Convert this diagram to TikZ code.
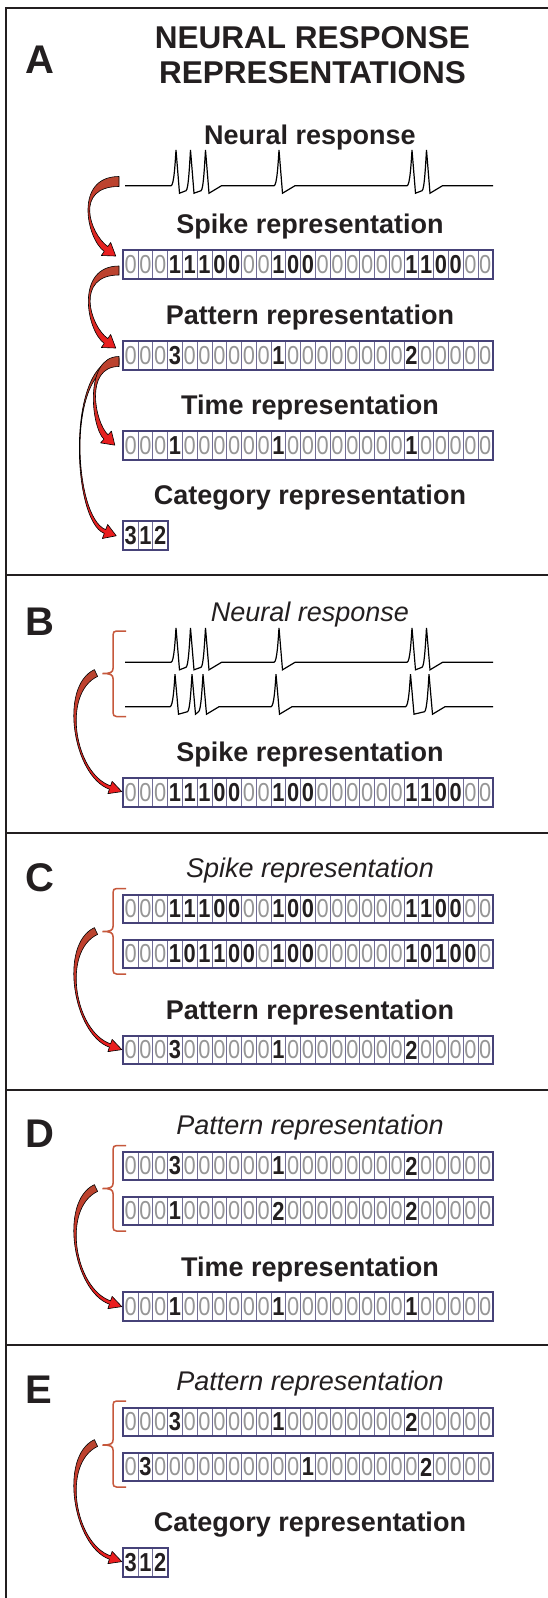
\documentclass[tikz,border=0pt]{standalone}
\usepackage{fontspec}
\setmainfont{Liberation Sans}
\newfontfamily\cellfont[FakeStretch=0.84]{Liberation Sans}
\usetikzlibrary{calc}

\definecolor{ink}{RGB}{35,31,32}
\definecolor{zerogray}{RGB}{150,150,150}
\definecolor{cellline}{RGB}{112,108,150}
\definecolor{cellframe}{RGB}{70,66,120}
\definecolor{bracketred}{RGB}{198,88,60}
\definecolor{arrowtop}{RGB}{184,70,48}
\definecolor{arrowbottom}{RGB}{236,28,30}

% cell contents: grey zero, bold black digit
\newcommand\zc{\color{zerogray}0}
\newcommand\bc[1]{\bfseries\color{ink}#1}

\def\rowSpikeA{\zc,\zc,\zc,\bc1,\bc1,\bc1,\bc0,\bc0,\zc,\zc,\bc1,\bc0,\bc0,\zc,\zc,\zc,\zc,\zc,\zc,\bc1,\bc1,\bc0,\bc0,\zc,\zc}
\def\rowSpikeB{\zc,\zc,\zc,\bc1,\bc0,\bc1,\bc1,\bc0,\bc0,\zc,\bc1,\bc0,\bc0,\zc,\zc,\zc,\zc,\zc,\zc,\bc1,\bc0,\bc1,\bc0,\bc0,\zc}
\def\rowPatternA{\zc,\zc,\zc,\bc3,\zc,\zc,\zc,\zc,\zc,\zc,\bc1,\zc,\zc,\zc,\zc,\zc,\zc,\zc,\zc,\bc2,\zc,\zc,\zc,\zc,\zc}
\def\rowPatternB{\zc,\zc,\zc,\bc1,\zc,\zc,\zc,\zc,\zc,\zc,\bc2,\zc,\zc,\zc,\zc,\zc,\zc,\zc,\zc,\bc2,\zc,\zc,\zc,\zc,\zc}
\def\rowPatternC{\zc,\bc3,\zc,\zc,\zc,\zc,\zc,\zc,\zc,\zc,\zc,\zc,\bc1,\zc,\zc,\zc,\zc,\zc,\zc,\zc,\bc2,\zc,\zc,\zc,\zc}
\def\rowTime{\zc,\zc,\zc,\bc1,\zc,\zc,\zc,\zc,\zc,\zc,\bc1,\zc,\zc,\zc,\zc,\zc,\zc,\zc,\zc,\bc1,\zc,\zc,\zc,\zc,\zc}
\def\rowCategory{\bc3,\bc1,\bc2}

% a row of cells: name, centre y, contents, last index
\newcommand\cellrow[4]{%
  \foreach \d [count=\i from 0] in #3 {
    \node[cell] (#1-\i) at ({123.3+(\i+0.5)*14.776},#2) {\d};
  }
  \draw[rowframe] (#1-0.north west) rectangle (#1-#4.south east);
}

% membrane trace: baseline, spike height, six spike peaks (burst of 3, single, pair)
\newcommand\spiketrace[8]{%
  \draw[trace] (125,#1)
    -- ({#3-5},#1) .. controls ({#3-2},#1) and ({#3-0.8},{#1-#2+12}) .. (#3,{#1-#2})
    -- ({#3+3.5},{#1+7.5}) -- ({#4-4.5},{#1+5})
       .. controls ({#4-2},{#1+4.5}) and ({#4-0.8},{#1-#2+12}) .. (#4,{#1-#2})
    -- ({#4+3.5},{#1+7.5}) -- ({#5-4.5},{#1+5})
       .. controls ({#5-2},{#1+4.5}) and ({#5-0.8},{#1-#2+12}) .. (#5,{#1-#2})
    -- ({#5+3.5},{#1+7.5}) -- ({#5+16},#1)
    -- ({#6-5},#1) .. controls ({#6-2},#1) and ({#6-0.8},{#1-#2+12}) .. (#6,{#1-#2})
    -- ({#6+3.5},{#1+7.5}) -- ({#6+16},#1)
    -- ({#7-5},#1) .. controls ({#7-2},#1) and ({#7-0.8},{#1-#2+12}) .. (#7,{#1-#2})
    -- ({#7+3.5},{#1+7.5}) -- ({#8-4.5},{#1+5})
       .. controls ({#8-2},{#1+4.5}) and ({#8-0.8},{#1-#2+12}) .. (#8,{#1-#2})
    -- ({#8+3.5},{#1+7.5}) -- ({#8+16},#1) -- (493,#1);
}

% curly grouping bracket: top, bottom, middle
\newcommand\groupbracket[3]{%
  \draw[bracketline] (126,#1) -- (116.5,#1)
    .. controls (114,#1) and (113,{#1+1.5}) .. (113,{#1+4})
    -- (113,{#3-5}) .. controls (113,{#3-1.5}) and (111,#3) .. (102.5,#3)
    .. controls (111,#3) and (113,{#3+1.5}) .. (113,{#3+5})
    -- (113,{#2-4}) .. controls (113,{#2-1.5}) and (114,#2) .. (116.5,#2) -- (126,#2);
}

\makeatletter
\newcommand\grabxy[3]{%
  \pgfpointanchor{#1}{center}%
  \edef\taTmpx{\the\pgf@x}\edef\taTmpy{\the\pgf@y}%
  \pgfmathsetmacro#2{\taTmpx}%
  \pgfmathsetmacro#3{\taTmpy}}
\makeatother

% tapered curved arrow: tail, control 1, control 2, neck,
% tail width, neck width, head length, head width
\newcommand\taperarrow[8]{%
  \grabxy{#1}\taTx\taTy
  \grabxy{#2}\taPx\taPy
  \grabxy{#3}\taQx\taQy
  \grabxy{#4}\taNx\taNy
  \pgfmathsetmacro\taL{veclen((\taPx)-(\taTx),(\taPy)-(\taTy))}%
  \pgfmathsetmacro\taAx{-1*((\taPy)-(\taTy))/(\taL)*#5/2}%
  \pgfmathsetmacro\taAy{((\taPx)-(\taTx))/(\taL)*#5/2}%
  \pgfmathsetmacro\taM{veclen((\taNx)-(\taQx),(\taNy)-(\taQy))}%
  \pgfmathsetmacro\taEx{((\taNx)-(\taQx))/(\taM)}%
  \pgfmathsetmacro\taEy{((\taNy)-(\taQy))/(\taM)}%
  \pgfmathsetmacro\taBx{-1*(\taEy)*#6/2}%
  \pgfmathsetmacro\taBy{(\taEx)*#6/2}%
  \pgfmathsetmacro\taHx{-1*(\taEy)*#8/2}%
  \pgfmathsetmacro\taHy{(\taEx)*#8/2}%
  \shadedraw[arrowbody]
    ({((\taTx)+(\taAx))*1pt},{((\taTy)+(\taAy))*1pt})
    .. controls ({((\taPx)+(\taAx))*1pt},{((\taPy)+(\taAy))*1pt})
           and ({((\taQx)+(\taBx))*1pt},{((\taQy)+(\taBy))*1pt})
    .. ({((\taNx)+(\taBx))*1pt},{((\taNy)+(\taBy))*1pt})
    -- ({((\taNx)+(\taHx))*1pt},{((\taNy)+(\taHy))*1pt})
    -- ({((\taNx)+(\taEx)*#7)*1pt},{((\taNy)+(\taEy)*#7)*1pt})
    -- ({((\taNx)-(\taHx))*1pt},{((\taNy)-(\taHy))*1pt})
    -- ({((\taNx)-(\taBx))*1pt},{((\taNy)-(\taBy))*1pt})
    .. controls ({((\taQx)-(\taBx))*1pt},{((\taQy)-(\taBy))*1pt})
           and ({((\taPx)-(\taAx))*1pt},{((\taPy)-(\taAy))*1pt})
    .. ({((\taTx)-(\taAx))*1pt},{((\taTy)-(\taAy))*1pt}) -- cycle;
}

\begin{document}
\begin{tikzpicture}[x=1pt,y=-1pt,
  frameline/.style={draw=ink, line width=2.8pt},
  panellabel/.style={font=\fontsize{40}{40}\selectfont\bfseries, text=ink, inner sep=0pt, anchor=base west},
  maintitle/.style={font=\fontsize{31.5}{32}\selectfont\bfseries, text=ink, inner sep=0pt, anchor=base},
  heading/.style={font=\fontsize{27}{28}\selectfont\bfseries, text=ink, inner sep=0pt, anchor=base},
  subheading/.style={font=\fontsize{27}{28}\selectfont\itshape, text=ink, inner sep=0pt, anchor=base},
  cell/.style={draw=cellline, line width=0.8pt, fill=white, minimum width=14.776pt,
    minimum height=27.5pt, inner sep=0pt, font=\cellfont\fontsize{26}{26}\selectfont},
  rowframe/.style={draw=cellframe, line width=1.8pt},
  trace/.style={draw=black, line width=1.2pt, line join=miter},
  bracketline/.style={draw=bracketred, line width=1.5pt},
  arrowbody/.style={top color=arrowtop, bottom color=arrowbottom, draw=black, line width=0.6pt, line join=round}]

\useasboundingbox (0,0) rectangle (548,1598);
\fill[white] (0,0) rectangle (548,1598);

% outer frame and panel dividers
\draw[frameline] (6,1598) -- (6,8) -- (548,8);
\foreach \yy in {575,833,1090,1345} \draw[frameline] (6,\yy) -- (548,\yy);

% ---------------- panel A ----------------
\node[panellabel] (labA) at (25,73) {A};
\node[maintitle] (titleA1) at (312.5,48.5) {NEURAL RESPONSE};
\node[maintitle] (titleA2) at (312.5,83.5) {REPRESENTATIONS};
\node[heading] (hA0) at (310,144) {Neural response};
\spiketrace{185.7}{35.7}{176}{190.5}{205.5}{279}{412}{426.5}
\node[heading] (hA1) at (310,233.5) {Spike representation};
\cellrow{rA1}{264.5}{\rowSpikeA}{24}
\node[heading] (hA2) at (310,324.5) {Pattern representation};
\cellrow{rA2}{355.5}{\rowPatternA}{24}
\node[heading] (hA3) at (310,414) {Time representation};
\cellrow{rA3}{445.5}{\rowTime}{24}
\node[heading] (hA4) at (310,504.5) {Category representation};
\cellrow{rA4}{535.5}{\rowCategory}{2}

\coordinate (a1t) at (119,181.5); \coordinate (a1p) at (74,181.5);
\coordinate (a1q) at (88,236);    \coordinate (a1n) at (106,249);
\taperarrow{a1t}{a1p}{a1q}{a1n}{10}{6}{12}{16}
\coordinate (a2t) at (119,270.5); \coordinate (a2p) at (75,270.5);
\coordinate (a2q) at (88,328);    \coordinate (a2n) at (106,341);
\taperarrow{a2t}{a2p}{a2q}{a2n}{9}{6}{12}{16}
\coordinate (a4t) at (119,361.5); \coordinate (a4p) at (66,361.5);
\coordinate (a4q) at (72,519);    \coordinate (a4n) at (105,531.5);
\taperarrow{a4t}{a4p}{a4q}{a4n}{6}{4}{12}{15}
\coordinate (a3t) at (119,361.5); \coordinate (a3p) at (84,361.5);
\coordinate (a3q) at (93,425);    \coordinate (a3n) at (106,437);
\taperarrow{a3t}{a3p}{a3q}{a3n}{10}{6}{12}{16}

% ---------------- panel B ----------------
\node[panellabel] (labB) at (25,635) {B};
\node[subheading] (sB) at (310,621) {Neural response};
\spiketrace{662.3}{34.5}{176}{190.5}{205.5}{279}{412}{426.5}
\spiketrace{706.7}{32.5}{175}{192}{203}{276}{410.5}{429}
\groupbracket{631}{716.5}{673.5}
\node[heading] (hB) at (310,761) {Spike representation};
\cellrow{rB}{792.5}{\rowSpikeA}{24}
\coordinate (bt) at (96,673);  \coordinate (bp) at (60,690);
\coordinate (bq) at (74,775);  \coordinate (bn) at (110,787.5);
\taperarrow{bt}{bp}{bq}{bn}{7.5}{3.5}{12.5}{13}

% ---------------- panel C ----------------
\node[panellabel] (labC) at (25,891) {C};
\node[subheading] (sC) at (310,877) {Spike representation};
\cellrow{rC1}{909}{\rowSpikeA}{24}
\cellrow{rC2}{954}{\rowSpikeB}{24}
\groupbracket{888.5}{974}{931.5}
\node[heading] (hC) at (310,1019) {Pattern representation};
\cellrow{rC3}{1050}{\rowPatternA}{24}
\coordinate (ct) at (96,931);  \coordinate (cp) at (60,948);
\coordinate (cq) at (74,1033); \coordinate (cn) at (110,1045.5);
\taperarrow{ct}{cp}{cq}{cn}{7.5}{3.5}{12.5}{13}

% ---------------- panel D ----------------
\node[panellabel] (labD) at (25,1147) {D};
\node[subheading] (sD) at (310,1134) {Pattern representation};
\cellrow{rD1}{1166}{\rowPatternA}{24}
\cellrow{rD2}{1211}{\rowPatternB}{24}
\groupbracket{1145.5}{1231}{1188.5}
\node[heading] (hD) at (310,1276) {Time representation};
\cellrow{rD3}{1306.5}{\rowTime}{24}
\coordinate (dt) at (96,1188);  \coordinate (dp) at (60,1205);
\coordinate (dq) at (74,1290);  \coordinate (dn) at (110,1302.5);
\taperarrow{dt}{dp}{dq}{dn}{7.5}{3.5}{12.5}{13}

% ---------------- panel E ----------------
\node[panellabel] (labE) at (25,1403) {E};
\node[subheading] (sE) at (310,1390) {Pattern representation};
\cellrow{rE1}{1422}{\rowPatternA}{24}
\cellrow{rE2}{1467}{\rowPatternC}{24}
\groupbracket{1401}{1487}{1445}
\node[heading] (hE) at (310,1531.5) {Category representation};
\cellrow{rE3}{1562.5}{\rowCategory}{2}
\coordinate (et) at (96,1443);  \coordinate (ep) at (60,1460);
\coordinate (eq) at (74,1545);  \coordinate (en) at (110,1557.5);
\taperarrow{et}{ep}{eq}{en}{7.5}{3.5}{12.5}{13}

\end{tikzpicture}
\end{document}
